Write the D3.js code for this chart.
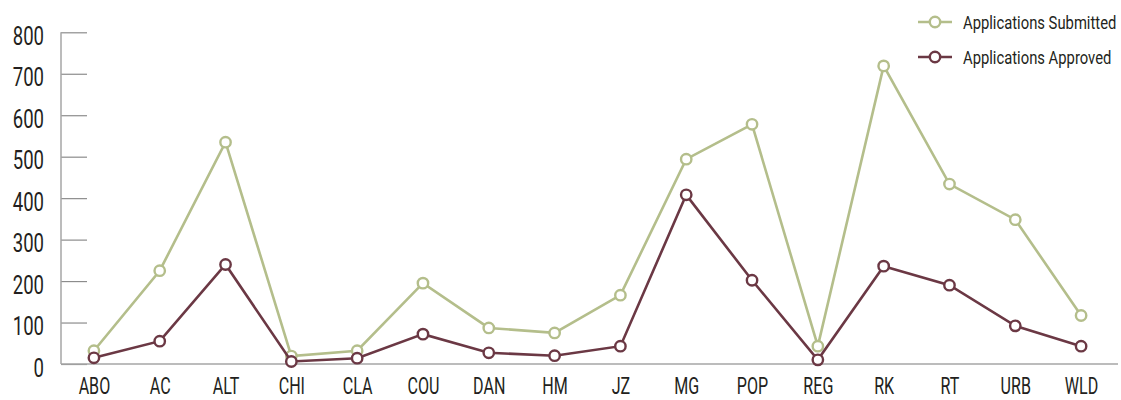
<!DOCTYPE html>
<html><head><meta charset="utf-8">
<script src="https://cdn.jsdelivr.net/npm/d3@7"></script>
<style>
body{margin:0;background:#fff;}
text{font-family:Roboto,"Noto Sans",sans-serif;fill:#231f20;}
</style></head>
<body><svg id="c" width="1121" height="400"></svg>
<script>
const categories = ["ABO","AC","ALT","CHI","CLA","COU","DAN","HM","JZ","MG","POP","REG","RK","RT","URB","WLD"];
const submitted = [32,225,535,19,32,195,87,75,166,494,578,43,719,434,348,117];
const approved  = [15,55,240,6,14,72,27,20,43,408,202,10,236,190,92,43];
const yTicks = [0,100,200,300,400,500,600,700,800];
const seriesNames = ["Applications Submitted","Applications Approved"];
const colors = ["#b4be8b","#6b3844"];
const SX = 0.7;

const svg = d3.select("#c");
const x = d3.scalePoint().domain(categories).range([61,1114]).padding(0.5);
const y = d3.scaleLinear().domain([0,800]).range([364,32.3]);

// y axis ticks
const ya = svg.append("g").attr("transform","translate(61,0)")
  .call(d3.axisRight(y).tickValues(yTicks).tickSize(26).tickFormat(""));
ya.select(".domain").remove();
ya.selectAll(".tick line").attr("stroke","#8c8c8c").attr("stroke-width",1.2);
svg.append("line").attr("x1",61).attr("x2",61).attr("y1",y(800)).attr("y2",y(0))
  .attr("stroke","#a6a6a6").attr("stroke-width",1.5);
svg.selectAll(".ylab").data(yTicks).enter().append("text")
  .attr("transform",d=>`translate(44,${y(d)+3}) scale(${SX},1)`)
  .attr("dy","0.36em").attr("text-anchor","end")
  .style("font-size","26.5px").text(d=>d);

// x axis labels
const xa = svg.append("g").attr("transform","translate(0,364)")
  .call(d3.axisBottom(x).tickSize(0).tickPadding(0));
xa.select(".domain").remove();
xa.selectAll(".tick text").attr("y",null).attr("dy",null)
  .attr("transform",`translate(0,30) scale(0.67,1)`)
  .style("font-size","24px").style("font-family",null).attr("fill","#231f20");
svg.append("line").attr("x1",61).attr("x2",1118).attr("y1",y(0)).attr("y2",y(0))
  .attr("stroke","#a6a6a6").attr("stroke-width",1.5);

// series
[submitted, approved].forEach((vals,i)=>{
  const data = categories.map((c,j)=>({c,v:vals[j]}));
  svg.append("path").datum(data)
    .attr("fill","none").attr("stroke",colors[i]).attr("stroke-width",2.6)
    .attr("d",d3.line().x(d=>x(d.c)).y(d=>y(d.v)));
  svg.selectAll(".pt"+i).data(data).enter().append("circle")
    .attr("cx",d=>x(d.c)).attr("cy",d=>y(d.v)).attr("r",5.2)
    .attr("fill","#fff").attr("stroke",colors[i]).attr("stroke-width",2.4);
});

// legend
seriesNames.forEach((n,i)=>{
  const ly = 22 + i*35;
  svg.append("line").attr("x1",918).attr("x2",952).attr("y1",ly).attr("y2",ly)
    .attr("stroke",colors[i]).attr("stroke-width",2.6);
  svg.append("circle").attr("cx",935).attr("cy",ly).attr("r",5.2)
    .attr("fill","#fff").attr("stroke",colors[i]).attr("stroke-width",2.4);
  svg.append("text").attr("transform",`translate(963,${ly}) scale(0.8,1)`)
    .attr("dy","0.36em").style("font-size","18.5px").text(n);
});
</script></body></html>
